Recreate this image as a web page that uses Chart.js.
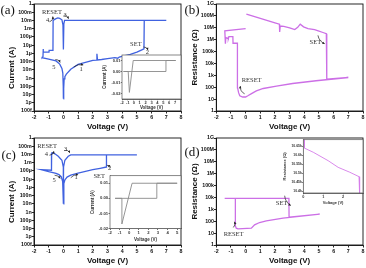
<!DOCTYPE html>
<html><head><meta charset="utf-8">
<script src="https://cdn.jsdelivr.net/npm/chart.js@4/dist/chart.umd.min.js"></script>
<style>
html,body{margin:0;padding:0;background:#fff;}
#fig{position:relative;width:366px;height:268px;overflow:hidden;background:#fff;}
canvas{position:absolute;}
</style></head><body><div id="fig">
<canvas id="ca" width="183" height="134" style="left:0;top:0"></canvas>
<canvas id="cb" width="183" height="134" style="left:183px;top:0"></canvas>
<canvas id="cc" width="183" height="134" style="left:0;top:134px"></canvas>
<canvas id="cd" width="183" height="134" style="left:183px;top:134px"></canvas>
<canvas id="ia" width="83" height="62" style="left:100px;top:50px"></canvas>
<canvas id="ic" width="95" height="74" style="left:88px;top:172px"></canvas>
<canvas id="id" width="85" height="70" style="left:280px;top:136px"></canvas>
</div>
<script>
// ================= DATA =================
const xTickValues = [-2,-1,0,1,2,3,4,5,6,7,8];
const currentTickLabels = ['100f','1p','10p','100p','1n','10n','100n','1µ','10µ','100µ','1m','10m','100m','1'];
const resistanceTickLabels = ['1','10','100','1k','10k','100k','1M','10M','100M','1G'];

// (a) I-V, main
const aVoltage = [0.0,0.02,0.05,0.1,0.2,0.5,1.0,1.5,2.0,2.25,2.28,2.32,2.6,3.0,3.5,3.7,3.8,4.05,4.55,5.0,5.3,5.48,
  5.5,7.0,0.08,0.03,0.0,-0.03,-0.1,-0.25,-0.38,-0.5,-0.65,-0.7,-0.71,-0.97,-0.98,-1.35,-1.37,-1.39,-1.45,
  -1.0,-0.5,-0.25,-0.1,-0.04,-0.01,0.0];
const aCurrent = [3e-12,5e-11,8e-10,1.5e-9,3e-9,1.2e-8,4.5e-8,8e-8,1.4e-7,1.5e-7,9e-7,1.6e-7,1.8e-7,2.3e-7,3e-7,2.6e-7,3.6e-7,4.8e-7,7.5e-7,1.4e-6,2.5e-6,3.6e-6,
  1e-2,1e-2,1e-2,4e-3,3e-6,3e-3,1.2e-2,1.8e-2,2e-2,1.7e-2,1.2e-2,1e-2,2.3e-6,2.3e-6,1.4e-6,1.4e-6,3.5e-6,4e-7,3e-7,
  2e-7,1.2e-7,5e-8,1.5e-8,4e-9,1e-10,3e-12];
// (a) inset, linear current
const aInsetVoltage = [-1.75,5.45,5.45,7.1,-0.1,-0.75,-0.95,-1.75];
const aInsetCurrent = [0,0,0.01,0.01,0.01,-0.019,0,0];
const aInsetXTicks = [-2,-1,0,1,2,3,4,5,6,7];
const insetCurrentTicks = [-0.02,-0.01,0,0.01];
const insetCurrentLabels = ['-0.02','-0.01','0.00','0.01'];

// (b) R-V
const bVoltage = [0.05,0.5,1.0,1.5,2.0,2.3,2.32,2.36,2.6,3.0,3.35,3.55,3.72,3.95,4.25,4.7,4.95,5.27,5.5,
  5.53,7.0,4.8,3.2,2.1,1.2,0.73,0.4,0.15,0.0,-0.2,-0.4,-0.48,-0.55,-0.56,-0.86,-0.87,-1.14,-1.18,-1.35,-1.38,-1.42,0.0];
const bResistance = [1.4e8,9.6e7,6.2e7,4e7,2.6e7,2e7,4.5e6,1.4e7,1.3e7,1e7,7e6,1.1e7,2e7,1.2e7,8.5e6,7e6,5.5e6,4e6,3.2e6,
  480,660,350,205,125,78,49,29,19,15,15,19,35,90,5e5,5e5,1.8e6,1.8e6,1.2e6,1.5e6,4.5e5,5.5e6,8.5e6];

// (c) I-V, main
const cVoltage = [0.0,0.03,0.1,0.25,0.5,1.0,1.5,2.0,2.5,2.92,2.93,5.0,0.5,0.33,0.1,0.01,0.0,-0.01,-0.1,-0.35,-0.58,-0.72,-0.8,-0.81,
  -1.5,-1.0,-0.5,-0.3,-0.15,-0.05,0.0];
const cCurrent = [1e-8,3e-6,8e-6,1.8e-5,3e-5,5.5e-5,9e-5,1.4e-4,2.1e-4,3e-4,9e-3,9e-3,9e-3,6e-3,2e-3,3e-4,1e-8,3e-4,2e-3,6e-3,1.2e-2,1.6e-2,1.5e-2,1.2e-4,
  1.4e-4,8e-5,5e-5,3.5e-5,2e-5,5e-6,1e-8];
// (c) inset
const cInsetVoltage = [-1.47,2.88,2.88,5.0,0.3,-0.76,-0.76,-1.47];
const cInsetCurrent = [0,0,0.01,0.01,0.01,-0.017,0,0];
const cInsetXTicks = [-2,-1,0,1,2,3,4,5];

// (d) R-V
const dVoltage = [-1.43,2.95,2.96,5.05,2.55,1.41,0.95,0.61,0.39,-0.52,-0.64,-0.68,-0.7,-1.43];
const dResistance = [8.5e3,8.5e3,220,400,182,107,78,49,26,23,26,35,8.5e3,8.5e3];
// (d) inset
const dInsetVoltage = [0.05,0.06,0.5,1.25,1.75,2.33,2.8,2.83];
const dInsetResistance = [10700,10640,10617,10570,10533,10506,10481,10380];
const dInsetXTicks = [0,1,2];
const dInsetYTicks = [10400,10450,10500,10550,10600,10650];
const dInsetYLabels = ['10.4k','10.45k','10.5k','10.55k','10.6k','10.65k'];

// ================= RENDERING =================
const SANS = '"Liberation Sans", Arial, sans-serif';
const SERIF = '"Liberation Serif", "Times New Roman", serif';
const BLUE = '#4062e0';
const MAGENTA = '#cc6fe6';
const currentTickValues = currentTickLabels.map((_, i) => Math.pow(10, i - 13));
const resistanceTickValues = resistanceTickLabels.map((_, i) => Math.pow(10, i));

function pts(xs, ys) { return xs.map((x, i) => ({x: x, y: ys[i]})); }

function axis(o) {
  return {
    type: o.type, min: o.min, max: o.max,
    afterBuildTicks: sc => { sc.ticks = o.ticks.map(v => ({value: v})); },
    ticks: { autoSkip: false, maxRotation: 0, minRotation: 0, font: o.tickFont, color: o.color,
             padding: o.tickPad, callback: (v, i) => o.labels[i] },
    grid: { display: true, drawOnChartArea: false, drawTicks: true, tickLength: o.tickLen, color: o.color, lineWidth: o.lw },
    border: { display: true, color: o.color, width: o.lw },
    title: { display: !!o.title, text: o.title || '', font: o.titleFont, color: o.color, padding: o.titlePad || 0 },
    afterFit: sc => { if (sc.isHorizontal()) sc.height = o.size; else sc.width = o.size; }
  };
}

function makeDeco(d) {
  return {
    id: 'deco',
    beforeDatasetsDraw(chart) {
      if (!d.fillArea) return;
      const c = chart.chartArea, ctx = chart.ctx;
      ctx.save(); ctx.fillStyle = '#fff'; ctx.fillRect(c.left, c.top, c.right - c.left, c.bottom - c.top); ctx.restore();
    },
    afterDatasetsDraw(chart) {
      const ctx = chart.ctx, c = chart.chartArea, xs = chart.scales.x, ys = chart.scales.y;
      ctx.save();
      ctx.strokeStyle = d.frameColor; ctx.lineWidth = d.frameWidth;
      ctx.strokeRect(c.left, c.top, c.right - c.left, c.bottom - c.top);
      (d.arrows || []).forEach(a => {
        const x1 = xs.getPixelForValue(a.from[0]), y1 = ys.getPixelForValue(a.from[1]);
        const x2 = xs.getPixelForValue(a.to[0]), y2 = ys.getPixelForValue(a.to[1]);
        const dx = x2 - x1, dy = y2 - y1, len = Math.hypot(dx, dy) || 1;
        const cx = (x1 + x2) / 2 - dy / len * a.bend, cy = (y1 + y2) / 2 + dx / len * a.bend;
        ctx.strokeStyle = '#222'; ctx.fillStyle = '#222'; ctx.lineWidth = 0.7;
        ctx.beginPath(); ctx.moveTo(x1, y1); ctx.quadraticCurveTo(cx, cy, x2, y2); ctx.stroke();
        const ang = Math.atan2(y2 - cy, x2 - cx), h = 2.6;
        ctx.beginPath(); ctx.moveTo(x2, y2);
        ctx.lineTo(x2 - h * Math.cos(ang - 0.5), y2 - h * Math.sin(ang - 0.5));
        ctx.lineTo(x2 - h * Math.cos(ang + 0.5), y2 - h * Math.sin(ang + 0.5));
        ctx.closePath(); ctx.fill();
      });
      (d.texts || []).forEach(t => {
        ctx.font = t.font || ('6.5px ' + SERIF); ctx.fillStyle = '#333';
        ctx.textAlign = 'center'; ctx.textBaseline = 'middle';
        ctx.fillText(t.text, xs.getPixelForValue(t.at[0]), ys.getPixelForValue(t.at[1]));
      });
      ctx.restore();
    },
    afterDraw(chart) {
      const ctx = chart.ctx;
      ctx.save();
      if (d.label) {
        ctx.font = '13px ' + SERIF; ctx.fillStyle = '#111'; ctx.textAlign = 'left'; ctx.textBaseline = 'alphabetic';
        ctx.fillText(d.label.text, d.label.x, d.label.y);
      }
      if (d.ytitle) {
        ctx.translate(d.ytitle.x, d.ytitle.y); ctx.rotate(-Math.PI / 2);
        ctx.font = 'bold 8px ' + SANS; ctx.fillStyle = '#111'; ctx.textAlign = 'center'; ctx.textBaseline = 'middle';
        ctx.fillText(d.ytitle.text, 0, 0);
      }
      ctx.restore();
    }
  };
}

function build(id, cfg) {
  const canvas = document.getElementById(id);
  const W = canvas.width, A = cfg.area;
  return new Chart(canvas, {
    type: 'scatter',
    data: { datasets: cfg.datasets.map(s => ({
      data: pts(s.x, s.y), showLine: true, borderColor: s.color, backgroundColor: s.color,
      borderWidth: s.width, pointRadius: 0, pointHoverRadius: 0, tension: 0, fill: false })) },
    options: {
      responsive: false, maintainAspectRatio: false, animation: false, devicePixelRatio: 1,
      events: [],
      layout: { autoPadding: false, padding: { left: A.left - cfg.yWidth, top: A.top, right: W - A.right, bottom: 0 } },
      plugins: { legend: { display: false }, tooltip: { enabled: false } },
      scales: { x: cfg.x, y: cfg.y }
    },
    plugins: [makeDeco(cfg.deco)]
  });
}

const mainTick = { family: SANS, size: 5.3, weight: 'bold' };
const mainTitle = { family: SANS, size: 8, weight: 'bold' };
function mainX() {
  return axis({ type: 'linear', min: -2, max: 8, ticks: xTickValues, labels: xTickValues.map(String),
    tickFont: mainTick, color: '#111', tickPad: 0.5, tickLen: 2.5, lw: 0.9,
    title: 'Voltage (V)', titleFont: mainTitle, titlePad: { top: 0, bottom: 2.2 }, size: 23 });
}
function currentY() {
  return axis({ type: 'logarithmic', min: 1e-13, max: 1, ticks: currentTickValues, labels: currentTickLabels,
    tickFont: mainTick, color: '#111', tickPad: 0, tickLen: 2.3, lw: 0.9, size: 34 });
}
function resistanceY() {
  return axis({ type: 'logarithmic', min: 1, max: 1e9, ticks: resistanceTickValues, labels: resistanceTickLabels,
    tickFont: mainTick, color: '#111', tickPad: 0, tickLen: 2.3, lw: 0.9,
    title: 'Resistance (Ω)', titleFont: mainTitle, titlePad: { top: 7, bottom: 0 }, size: 33.3 });
}

// ---- (a)
build('ca', {
  area: { left: 34, top: 4, right: 181, bottom: 111 }, yWidth: 34,
  datasets: [{ x: aVoltage, y: aCurrent, color: BLUE, width: 1.3 }],
  x: mainX(), y: currentY(),
  deco: { frameColor: '#111', frameWidth: 0.9,
    label: { text: '(a)', x: 0.5, y: 13.5 },
    ytitle: { text: 'Current (A)', x: 12, y: 68 },
    texts: [
      { text: 'RESET', at: [-0.78, 9e-2] }, { text: '4', at: [-1.08, 1e-2] }, { text: '3', at: [0.12, 4.8e-2] },
      { text: 'SET', at: [4.93, 1.2e-5] }, { text: '2', at: [5.72, 1.4e-6] },
      { text: '1', at: [1.2, 1.2e-8] }, { text: '5', at: [-0.65, 1.9e-8] } ],
    arrows: [
      { from: [-0.95, 7e-3], to: [-0.72, 3e-2], bend: 2.5 },
      { from: [0.0, 3.5e-2], to: [0.35, 1.6e-2], bend: -2.5 },
      { from: [5.45, 6e-6], to: [5.75, 2.6e-6], bend: -2 },
      { from: [0.7, 2.2e-8], to: [1.35, 4e-8], bend: -2.5 },
      { from: [-0.55, 1.8e-7], to: [-0.22, 8e-8], bend: -2 } ] }
});

// ---- (b)
build('cb', {
  area: { left: 33.3, top: 4, right: 180, bottom: 110.5 }, yWidth: 33.3,
  datasets: [{ x: bVoltage, y: bResistance, color: MAGENTA, width: 1.3 }],
  x: mainX(), y: resistanceY(),
  deco: { frameColor: '#111', frameWidth: 0.9,
    label: { text: '(b)', x: 1.5, y: 13.5 },
    texts: [ { text: 'RESET', at: [0.41, 350] }, { text: 'SET', at: [4.75, 6.3e5] } ],
    arrows: [
      { from: [-0.07, 28], to: [-0.36, 125], bend: -3 },
      { from: [4.93, 2.3e6], to: [5.39, 4.6e5], bend: 3 } ] }
});

// ---- (c)
build('cc', {
  area: { left: 34, top: 4, right: 181, bottom: 111 }, yWidth: 34,
  datasets: [{ x: cVoltage, y: cCurrent, color: BLUE, width: 1.3 }],
  x: mainX(), y: currentY(),
  deco: { frameColor: '#111', frameWidth: 0.9,
    label: { text: '(c)', x: 1.5, y: 25 },
    ytitle: { text: 'Current (A)', x: 12, y: 68 },
    texts: [
      { text: 'RESET', at: [-1.11, 9e-2] }, { text: '4', at: [-1.15, 1.2e-2] }, { text: '3', at: [0.15, 4.8e-2] },
      { text: '2', at: [3.15, 1.9e-4] }, { text: 'SET', at: [2.44, 2.5e-5] },
      { text: '1', at: [0.86, 1.9e-5] }, { text: '5', at: [-0.63, 7.6e-6] } ],
    arrows: [
      { from: [-0.95, 8e-3], to: [-0.65, 2.5e-2], bend: 2.5 },
      { from: [0.05, 3e-2], to: [0.45, 1.6e-2], bend: -2.5 },
      { from: [2.95, 5e-4], to: [3.12, 2.6e-4], bend: -1.5 },
      { from: [0.5, 1.5e-5], to: [1.0, 3.5e-5], bend: -2 },
      { from: [-0.6, 3e-5], to: [-0.22, 1.2e-5], bend: -2 } ] }
});

// ---- (d)
build('cd', {
  area: { left: 33.3, top: 4, right: 180, bottom: 110.5 }, yWidth: 33.3,
  datasets: [{ x: dVoltage, y: dResistance, color: MAGENTA, width: 1.3 }],
  x: mainX(), y: resistanceY(),
  deco: { frameColor: '#111', frameWidth: 0.9,
    label: { text: '(d)', x: 1.5, y: 22 },
    texts: [ { text: 'RESET', at: [-0.82, 8] }, { text: 'SET', at: [2.45, 3.4e3] } ],
    arrows: [
      { from: [-0.84, 30], to: [-0.76, 90], bend: 2 },
      { from: [2.66, 1.4e4], to: [3.08, 2.1e3], bend: 3 } ] }
});

// ---- insets
const insetColor = '#333';
function insetTick(sz) { return { family: SANS, size: sz, weight: 'bold' }; }
function insetTitle(sz) { return { family: SANS, size: sz, weight: 'bold' }; }

build('ia', {
  area: { left: 22, top: 5, right: 81, bottom: 49 }, yWidth: 22,
  datasets: [{ x: aInsetVoltage, y: aInsetCurrent, color: '#8a8a8a', width: 0.9 }],
  x: axis({ type: 'linear', min: -2, max: 8, ticks: aInsetXTicks, labels: aInsetXTicks.map(String),
    tickFont: insetTick(4), color: insetColor, tickPad: 0, tickLen: 1.3, lw: 0.7,
    title: 'Voltage (V)', titleFont: insetTitle(4.5), titlePad: { top: 0, bottom: 1.3 }, size: 13 }),
  y: axis({ type: 'linear', min: -0.025, max: 0.015, ticks: insetCurrentTicks, labels: insetCurrentLabels,
    tickFont: insetTick(4), color: insetColor, tickPad: 0.3, tickLen: 1.2, lw: 0.7,
    title: 'Current (A)', titleFont: insetTitle(4.5), titlePad: { top: 2.3, bottom: 0 }, size: 22 }),
  deco: { fillArea: true, frameColor: '#555', frameWidth: 0.7 }
});

build('ic', {
  area: { left: 22, top: 3.7, right: 93, bottom: 56.5 }, yWidth: 22,
  datasets: [{ x: cInsetVoltage, y: cInsetCurrent, color: '#8a8a8a', width: 0.9 }],
  x: axis({ type: 'linear', min: -2, max: 5.4, ticks: cInsetXTicks, labels: cInsetXTicks.map(String),
    tickFont: insetTick(4.2), color: insetColor, tickPad: 0, tickLen: 1.5, lw: 0.7,
    title: 'Voltage (V)', titleFont: insetTitle(4.5), titlePad: { top: 0, bottom: 3.3 }, size: 17.5 }),
  y: axis({ type: 'linear', min: -0.02, max: 0.015, ticks: insetCurrentTicks, labels: insetCurrentLabels,
    tickFont: insetTick(4.2), color: insetColor, tickPad: 0.3, tickLen: 1.5, lw: 0.7,
    title: 'Current (A)', titleFont: insetTitle(4.5), titlePad: { top: 2.3, bottom: 0 }, size: 22 }),
  deco: { fillArea: true, frameColor: '#555', frameWidth: 0.7 }
});

build('id', {
  area: { left: 23.3, top: 3.7, right: 83, bottom: 57 }, yWidth: 23.3,
  datasets: [{ x: dInsetVoltage, y: dInsetResistance, color: '#d57ce9', width: 0.9 }],
  x: axis({ type: 'linear', min: 0, max: 3, ticks: dInsetXTicks, labels: dInsetXTicks.map(String),
    tickFont: insetTick(3.8), color: insetColor, tickPad: 0, tickLen: 1.3, lw: 0.7,
    title: 'Voltage (V)', titleFont: insetTitle(4), titlePad: { top: 0, bottom: 1 }, size: 13 }),
  y: axis({ type: 'linear', min: 10390, max: 10687, ticks: dInsetYTicks, labels: dInsetYLabels,
    tickFont: insetTick(3.4), color: insetColor, tickPad: 0.3, tickLen: 1.2, lw: 0.7,
    title: 'Resistance (Ω)', titleFont: insetTitle(4), titlePad: { top: 2.6, bottom: 0 }, size: 23.3 }),
  deco: { fillArea: true, frameColor: '#555', frameWidth: 0.7 }
});
</script>
</body></html>
